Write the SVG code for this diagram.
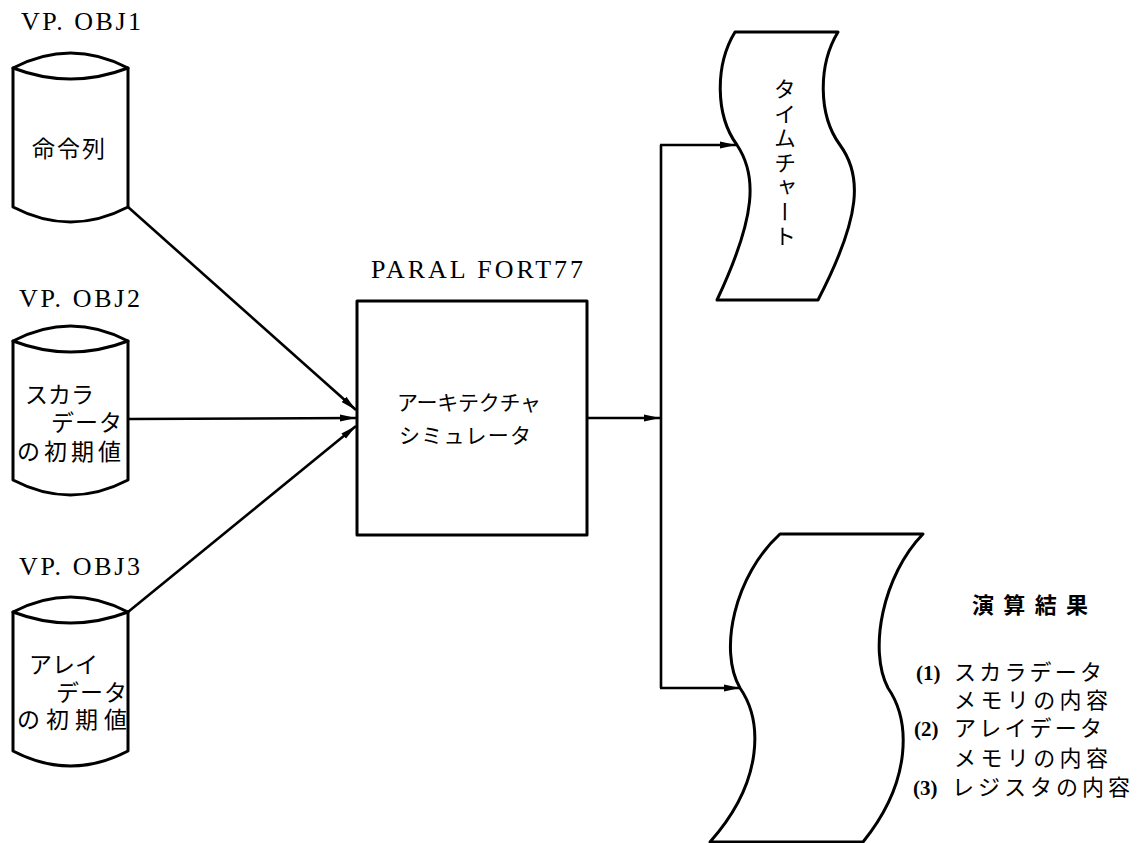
<svg xmlns="http://www.w3.org/2000/svg" xmlns:xlink="http://www.w3.org/1999/xlink" width="1140" height="843" viewBox="0 0 1140 843">
<style>
.shape{fill:#fff;stroke:#000;stroke-width:3;stroke-linejoin:round}
.conn{fill:none;stroke:#000;stroke-width:2.6}
.lbl{font-family:"Liberation Serif",serif;font-size:26px;fill:#000}
.jp{font-family:"Noto Sans CJK JP",sans-serif;font-size:23px;fill:#000}
.jps{font-family:"Noto Sans CJK JP",sans-serif;font-size:22px;fill:#000}
.num{font-family:"Liberation Serif",serif;font-size:21px;font-weight:bold;fill:#000}
</style>
<defs>
<marker id="arr" markerUnits="userSpaceOnUse" markerWidth="18" markerHeight="8" refX="16" refY="4" orient="auto">
<path d="M0,0.5 L16,4 L0,7.5 Z" fill="#000"/>
</marker>
<g id="cyl">
<path class="shape" d="M13,0 L13,139 Q70.5,169 128,139 L128,0 Z"/>
<path class="shape" d="M13,0 Q70.5,-30 128,0 Q70.5,22 13,0 Z"/>
</g>
</defs>
<rect width="1140" height="843" fill="#fff"/>

<g id="connectors">
<line class="conn" x1="128" y1="207" x2="356" y2="410" marker-end="url(#arr)"/>
<line class="conn" x1="128" y1="419" x2="356" y2="418" marker-end="url(#arr)"/>
<line class="conn" x1="128" y1="612" x2="356" y2="426" marker-end="url(#arr)"/>
<line class="conn" x1="587" y1="418" x2="660" y2="418" marker-end="url(#arr)"/>
<polyline class="conn" points="661,145 661,688"/>
<line class="conn" x1="660" y1="145" x2="736" y2="145" marker-end="url(#arr)"/>
<line class="conn" x1="660" y1="688" x2="740" y2="688" marker-end="url(#arr)"/>
</g>

<g id="obj1">
<text class="lbl" x="21" y="30" textLength="120" lengthAdjust="spacing">VP. OBJ1</text>
<use xlink:href="#cyl" transform="translate(0,68)"/>
<text class="jp" x="32" y="157" textLength="73" lengthAdjust="spacing">命令列</text>
</g>

<g id="obj2">
<text class="lbl" x="19" y="307" textLength="121" lengthAdjust="spacing">VP. OBJ2</text>
<use xlink:href="#cyl" transform="translate(0,341)"/>
<text class="jp" x="25" y="403">スカラ</text>
<text class="jp" x="51" y="431" letter-spacing="1">データ</text>
<text class="jp" x="17" y="460" textLength="104" lengthAdjust="spacing">の初期値</text>
</g>

<g id="obj3">
<text class="lbl" x="19" y="575" textLength="121" lengthAdjust="spacing">VP. OBJ3</text>
<use xlink:href="#cyl" transform="translate(0,612)"/>
<text class="jp" x="29" y="673">アレイ</text>
<text class="jp" x="56" y="701" letter-spacing="1">データ</text>
<text class="jp" x="17" y="728" textLength="110" lengthAdjust="spacing">の初期値</text>
</g>

<g id="simulator">
<text class="lbl" x="371" y="278" textLength="212" lengthAdjust="spacing">PARAL FORT77</text>
<rect class="shape" x="357" y="301" width="230" height="234"/>
<text class="jp" style="font-size:21px" x="397" y="410" textLength="144" lengthAdjust="spacing">アーキテクチャ</text>
<text class="jp" style="font-size:21px" x="399" y="443" textLength="132" lengthAdjust="spacing">シミュレータ</text>
</g>

<g id="timechart">
<path class="shape" d="M735,32 L838,32 C818,65 818,115 840,145 C862,175 862,215 818,300 L717,300 C757,215 757,175 737,145 C715,115 715,65 735,32 Z"/>
<text class="jp" style="font-size:22px;writing-mode:vertical-rl" x="785" y="78" letter-spacing="2.5">タイムチャート</text>
</g>

<g id="result">
<path class="shape" d="M780,534 L923,534 C883,575 868,650 888,688 C910,720 913,780 863,842 L710,842 C765,780 762,720 740,688 C718,650 735,575 780,534 Z"/>
</g>

<g id="result-label">
<text class="jps" style="font-weight:bold" x="972" y="613" textLength="116" lengthAdjust="spacing">演算結果</text>
<text class="num" x="916" y="680">(1)</text>
<text class="jps" x="954" y="680" textLength="148" lengthAdjust="spacing">スカラデータ</text>
<text class="jps" x="954" y="708" textLength="154" lengthAdjust="spacing">メモリの内容</text>
<text class="num" x="914" y="736">(2)</text>
<text class="jps" x="954" y="736" textLength="148" lengthAdjust="spacing">アレイデータ</text>
<text class="jps" x="954" y="766" textLength="154" lengthAdjust="spacing">メモリの内容</text>
<text class="num" x="913" y="795">(3)</text>
<text class="jps" x="952" y="795" textLength="178" lengthAdjust="spacing">レジスタの内容</text>
</g>
</svg>
